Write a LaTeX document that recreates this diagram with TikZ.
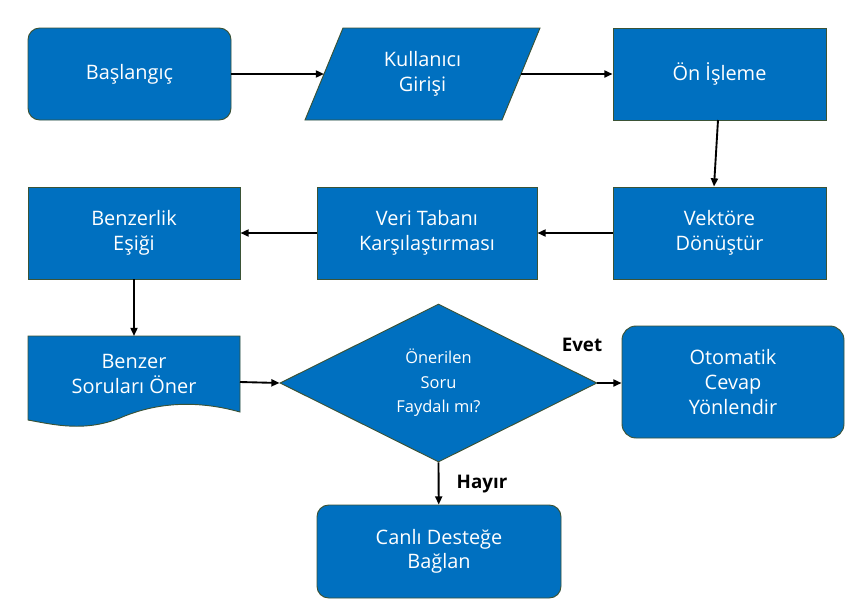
\documentclass[tikz,border=0pt]{standalone}
\usepackage{fontspec}
\setmainfont{Open Sans}
\usetikzlibrary{shapes.geometric,arrows.meta}
\definecolor{fillb}{HTML}{0070C0}
\definecolor{edge}{HTML}{3B5336}
\begin{document}
\begin{tikzpicture}[x=0.03cm,y=-0.03cm,
  box/.style={draw=edge,line width=0.8pt,fill=fillb,text=white,font=\fontsize{17}{21}\selectfont,align=center,inner sep=0pt},
  arr/.style={-{Triangle[length=7pt,width=6pt]},line width=1.6pt,black},
  lab/.style={font=\fontsize{16}{19}\selectfont\bfseries}]
\useasboundingbox (0,0) rectangle (867,611);
\node[box,rounded corners=10pt,minimum width=203*0.03cm,minimum height=92*0.03cm] (bas) at (129.5,74) {Başlangıç};
\draw[box] (343,28) -- (540,28) -- (502,120) -- (305,120) -- cycle;
\node[font=\fontsize{17}{21}\selectfont,text=white,align=center] (kul) at (422.5,74) {Kullanıcı\\Girişi};
\coordinate (kulL) at (324,74); \coordinate (kulR) at (521,74);
\node[box,minimum width=213*0.03cm,minimum height=92*0.03cm] (on) at (719.5,74) {Ön İşleme};
\node[box,minimum width=213*0.03cm,minimum height=92*0.03cm] (vek) at (719.5,233) {Vektöre\\Dönüştür};
\node[box,minimum width=220*0.03cm,minimum height=92*0.03cm] (veri) at (427,233) {Veri Tabanı\\Karşılaştırması};
\node[box,minimum width=212*0.03cm,minimum height=92*0.03cm] (esik) at (134,233) {Benzerlik\\Eşiği};
\draw[box] (28,336) -- (240,336) -- (240,412) .. controls (190,398) and (150,405) .. (120,418) .. controls (85,432) and (55,425) .. (28,420) -- cycle;
\node[font=\fontsize{17}{21}\selectfont,text=white,align=center] (ben) at (134,374) {Benzer\\Soruları Öner};
\coordinate (benR) at (240,382); \coordinate (benT) at (134,336);
\node[box,diamond,aspect=2,minimum width=317*0.03cm,minimum height=158*0.03cm,font=\fontsize{14}{21}\selectfont] (dia) at (438.5,383) {Önerilen\\Soru\\Faydalı mı?};
\node[box,rounded corners=12pt,minimum width=222*0.03cm,minimum height=112*0.03cm] (oto) at (733,382) {Otomatik\\Cevap\\Yönlendir};
\node[box,rounded corners=10pt,minimum width=244*0.03cm,minimum height=93*0.03cm] (can) at (439,551.5) {Canlı Desteğe\\Bağlan};
\draw[arr] (bas) -- (kulL);
\draw[arr] (kulR) -- (on);
\draw[arr] (718,120) -- (vek.north -| 714,0);
\draw[arr] (vek) -- (veri);
\draw[arr] (veri) -- (esik);
\draw[arr] (esik) -- (benT);
\draw[arr] (benR) -- (dia.west);
\draw[arr] (dia.east) -- (oto.west |- dia.east);
\draw[arr] (dia.south) -- (can);
\node[lab] (evet) at (582,345) {Evet};
\node[lab] (hayir) at (482,484) {Hayır};
\end{tikzpicture}
\end{document}
